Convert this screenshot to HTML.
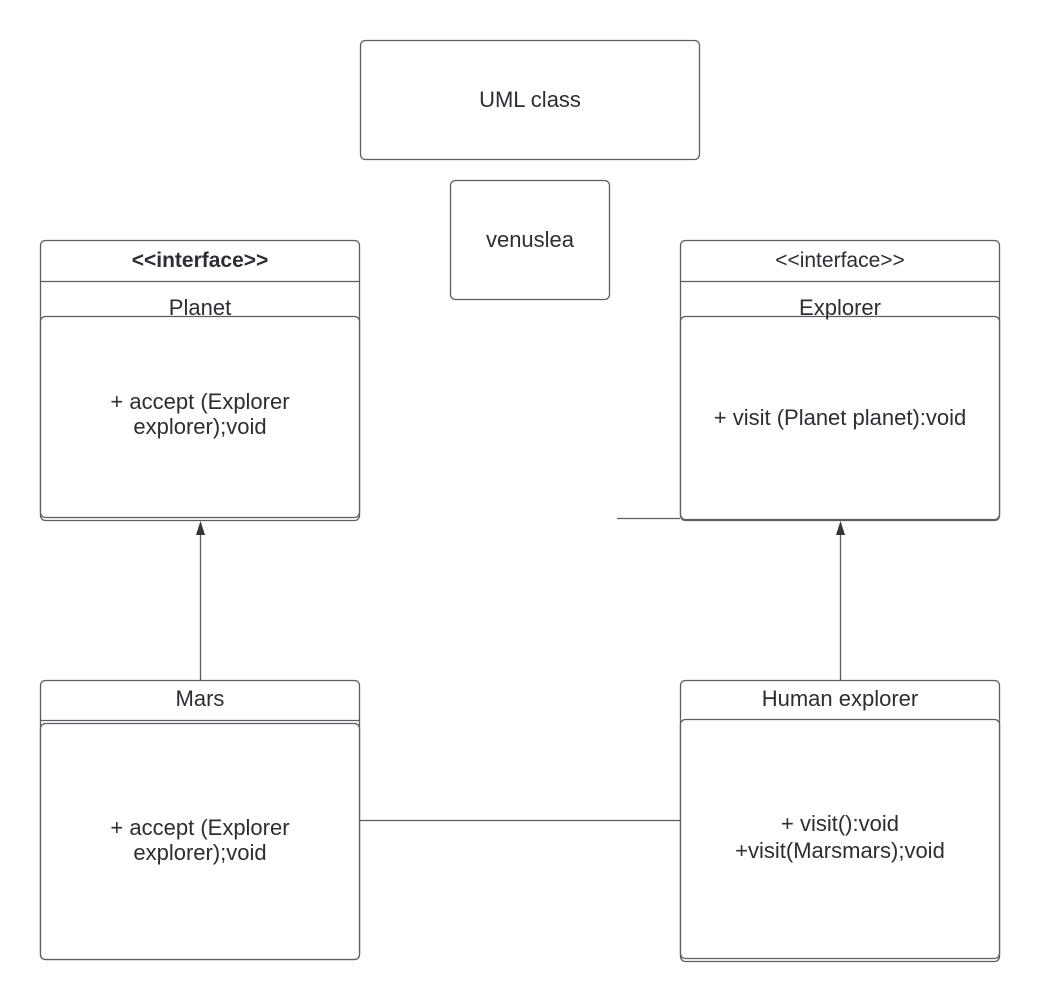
<!DOCTYPE html>
<html><head><style>body{margin:0;background:#fff}</style></head><body>
<svg width="1040" height="1000" xmlns="http://www.w3.org/2000/svg" font-family="Liberation Sans, sans-serif" fill="none">
<g stroke="#5a5d63" stroke-width="1.3">
<rect x="360.5" y="40.5" width="339" height="119" rx="5" fill="#fff"/>
<rect x="450.5" y="180.5" width="159" height="119" rx="5" fill="#fff"/>
<rect x="40.5" y="240.5" width="319" height="280" rx="5" fill="#fff"/>
<line x1="40" y1="281.5" x2="360" y2="281.5"/>
<rect x="40.5" y="316.5" width="319" height="201" rx="5" fill="#fff"/>
<rect x="680.5" y="240.5" width="319" height="280" rx="5" fill="#fff"/>
<line x1="680" y1="281.5" x2="1000" y2="281.5"/>
<rect x="680.5" y="316.5" width="319" height="203" rx="5" fill="#fff"/>
<rect x="40.5" y="680.5" width="319" height="279" rx="5" fill="#fff"/>
<line x1="40" y1="720.5" x2="360" y2="720.5"/>
<rect x="40.5" y="723.5" width="319" height="236" rx="5" fill="#fff"/>
<rect x="680.5" y="680.5" width="319" height="281" rx="5" fill="#fff"/>
<rect x="680.5" y="719.5" width="319" height="239" rx="5" fill="#fff"/>
<line x1="200.5" y1="680" x2="200.5" y2="532"/>
<line x1="840.5" y1="680" x2="840.5" y2="532"/>
<line x1="360" y1="820.5" x2="680" y2="820.5"/>
<line x1="617" y1="518.5" x2="680" y2="518.5"/>
</g>
<polygon points="200.5,521 196,535 205,535" fill="#33363c"/>
<polygon points="840.5,521 836,535 845,535" fill="#33363c"/>
<g fill="#2b2e35" font-size="22" text-anchor="middle">
<text x="530" y="107">UML class</text>
<text x="530" y="247">venuslea</text>
<text x="200" y="267" font-weight="bold" font-size="21">&lt;&lt;interface&gt;&gt;</text>
<text x="200" y="315">Planet</text>
<text x="200" y="409">+ accept (Explorer</text>
<text x="200" y="434">explorer);void</text>
<text x="840" y="267" font-size="21">&lt;&lt;interface&gt;&gt;</text>
<text x="840" y="315">Explorer</text>
<text x="840" y="425">+ visit (Planet planet):void</text>
<text x="200" y="706">Mars</text>
<text x="200" y="835">+ accept (Explorer</text>
<text x="200" y="860">explorer);void</text>
<text x="840" y="706">Human explorer</text>
<text x="840" y="831">+ visit():void</text>
<text x="840" y="858">+visit(Marsmars);void</text>
</g>
</svg>
</body></html>
